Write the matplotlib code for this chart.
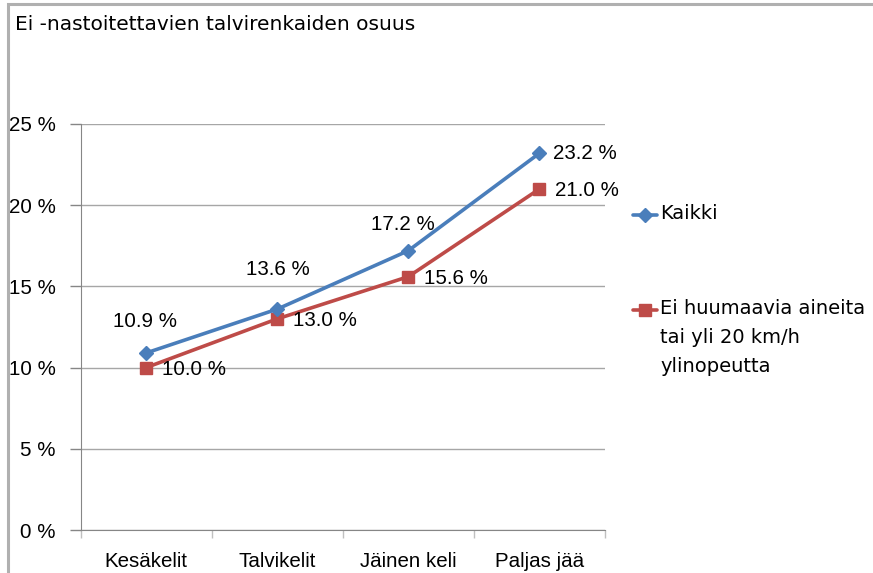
import matplotlib
matplotlib.use("Agg")
import matplotlib.pyplot as plt
from matplotlib.lines import Line2D
from matplotlib.patches import Rectangle

plt.rcParams['font.family'] = ['Liberation Sans', 'DejaVu Sans']

title = "Ei -nastoitettavien talvirenkaiden osuus"
categories = ["Kesäkelit", "Talvikelit", "Jäinen keli", "Paljas jää"]
kaikki = [10.9, 13.6, 17.2, 23.2]
ei_huumaavia = [10.0, 13.0, 15.6, 21.0]
series_names = ["Kaikki", "Ei huumaavia aineita\ntai yli 20 km/h\nylinopeutta"]
y_ticks = [0, 5, 10, 15, 20, 25]

blue = "#4A7EBB"
red = "#BE4B48"
grid_c = "#868686"
FS = 14.8

W, H = 873, 573
fig = plt.figure(figsize=(W / 100, H / 100), dpi=100)

# chart area border (left and top visible)
fig.patches.append(Rectangle((8 / W, -0.1), 1.2, (H - 4) / H + 0.1, transform=fig.transFigure,
                             fill=False, edgecolor="#B0B0B0", linewidth=2.2, zorder=0))

ax = fig.add_axes([80.5 / W, (H - 530) / H, (605 - 80.5) / W, (530 - 124) / H])
x = list(range(len(categories)))

ax.plot(x, kaikki, color=blue, lw=2.6, marker="D", ms=7.5, mec=blue, mfc=blue, zorder=4,
        solid_capstyle="round")
ax.plot(x, ei_huumaavia, color=red, lw=2.6, marker="s", ms=9, mec=red, mfc=red, zorder=3,
        solid_capstyle="round")

ax.set_xlim(-0.5, len(categories) - 0.5)
ax.set_ylim(0, 25)
ax.set_yticks(y_ticks)
ax.set_yticklabels([f"{v} %" for v in y_ticks])
ax.set_xticks([i - 0.5 for i in range(len(categories) + 1)])
ax.set_xticklabels([])
ax.set_xticks(x, minor=True)
ax.set_xticklabels(categories, minor=True)
ax.tick_params(axis="x", which="minor", length=0, pad=16, labelsize=FS)
ax.tick_params(axis="x", which="major", length=6, color="#C0C0C0", width=1)
ax.tick_params(axis="y", length=8, color=grid_c, width=1, pad=10, labelsize=FS)
ax.yaxis.grid(True, color="#A6A6A6", lw=1)
ax.set_axisbelow(True)
for s in ["top", "right"]:
    ax.spines[s].set_visible(False)
ax.spines["left"].set_color(grid_c)
ax.spines["bottom"].set_color(grid_c)

# data labels (offsets in pixels == points*100/72)
px = 72 / 100
blue_offsets = [(-1, 31, "center"), (1, 40, "center"), (-5, 26, "center"), (14, 0, "left")]
for v, i, (dx, dy, ha) in zip(kaikki, x, blue_offsets):
    ax.annotate(f"{v:.1f} %", (i, v), xytext=(dx * px, dy * px), textcoords="offset points",
                ha=ha, va="center", fontsize=FS)
for v, i in zip(ei_huumaavia, x):
    ax.annotate(f"{v:.1f} %", (i, v), xytext=(16 * px, -1.5 * px), textcoords="offset points",
                ha="left", va="center", fontsize=FS)

fig.text(15 / W, 1 - 24 / H, title, ha="left", va="center", fontsize=14.5,
         family=["DejaVu Sans"])

# legend (manual)
for yc, color, marker, ms, label in [(215, blue, "D", 7.5, series_names[0]),
                                     (310, red, "s", 9, series_names[1])]:
    fig.add_artist(Line2D([633 / W, 657 / W], [1 - yc / H] * 2, transform=fig.transFigure,
                          color=color, lw=2.6, solid_capstyle="round"))
    fig.add_artist(Line2D([645 / W], [1 - yc / H], transform=fig.transFigure,
                          color=color, marker=marker, ms=ms, lw=0))
    fig.text(660 / W, 1 - (yc - 11) / H, label, ha="left", va="top", fontsize=14,
             linespacing=1.65, family=["DejaVu Sans"])

fig.savefig("out.png", dpi=100)
